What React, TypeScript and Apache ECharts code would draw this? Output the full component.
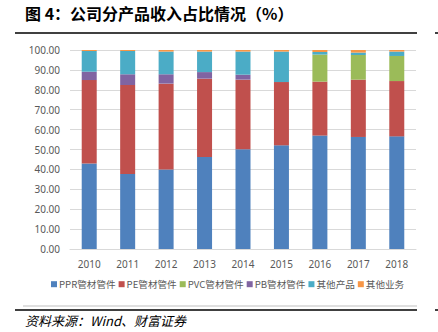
import React, { useEffect, useRef } from "react";
import * as echarts from "echarts";

const years = ["2010", "2011", "2012", "2013", "2014", "2015", "2016", "2017", "2018"];
const seriesNames = ["PPR管材管件", "PE管材管件", "PVC管材管件", "PB管材管件", "其他产品", "其他业务"];
const ppr = [43.0, 37.7, 40.0, 46.2, 50.1, 52.1, 57.0, 56.3, 56.6];
const pe = [41.9, 44.7, 43.1, 39.4, 35.0, 31.8, 27.1, 28.8, 27.8];
const pvc = [0, 0, 0, 0, 0, 0, 13.6, 12.4, 12.6];
const pb = [4.2, 5.4, 4.7, 3.3, 2.5, 0, 0, 0, 0];
const otherProducts = [10.4, 11.7, 11.4, 10.3, 11.6, 15.3, 1.3, 1.2, 2.2];
const otherBusiness = [0.5, 0.5, 0.8, 0.8, 0.8, 0.8, 1.0, 1.3, 0.8];
const colors = ["#4F81BD", "#C0504D", "#9BBB59", "#8064A2", "#4BACC6", "#F79646"];

export default function App() {
  const ref = useRef<HTMLDivElement>(null);
  useEffect(() => {
    if (!ref.current) return;
    const chart = echarts.init(ref.current, null, { renderer: "svg" });
    const data = [ppr, pe, pvc, pb, otherProducts, otherBusiness];
    chart.setOption({
      animation: false,
      backgroundColor: "#ffffff",
      color: colors,
      grid: { left: 70, right: 22, top: 50, bottom: 83 },
      legend: {
        data: seriesNames,
        bottom: 38,
        left: 46,
        itemWidth: 6,
        itemHeight: 6,
        itemGap: 3,
        icon: "rect",
        textStyle: { fontSize: 9.6, color: "#595959", fontFamily: "Noto Sans CJK SC", padding: [0, 0, 0, -3] },
      },
      xAxis: {
        type: "category",
        data: years,
        axisLine: { show: true, lineStyle: { color: "#D9D9D9" } },
        axisTick: { show: false },
        axisLabel: { fontSize: 10, color: "#595959", margin: 10, fontFamily: "Noto Sans" },
      },
      yAxis: {
        type: "value",
        min: 0,
        max: 100,
        interval: 10,
        axisLine: { show: false },
        axisTick: { show: false },
        splitLine: { lineStyle: { color: "#D9D9D9" } },
        axisLabel: {
          fontSize: 10,
          color: "#595959",
          margin: 10,
          fontFamily: "Noto Sans",
          formatter: (v: number) => v.toFixed(2),
        },
      },
      series: seriesNames.map((name, i) => ({
        name,
        type: "bar",
        stack: "total",
        barWidth: 15,
        data: data[i],
        itemStyle: { color: colors[i] },
      })),
      graphic: [
        {
          type: "text",
          left: 25,
          top: 5,
          style: {
            text: "图 4：公司分产品收入占比情况（%）",
            font: "bold 16px 'Noto Sans CJK SC'",
            fill: "#000",
          },
        },
        { type: "line", shape: { x1: 15, y1: 33, x2: 417, y2: 33 }, style: { stroke: "#000", lineWidth: 1.5 } },
        { type: "line", shape: { x1: 435, y1: 33, x2: 438, y2: 33 }, style: { stroke: "#000", lineWidth: 1.5 } },
        { type: "line", shape: { x1: 23, y1: 306, x2: 417, y2: 306 }, style: { stroke: "#BFBFBF", lineWidth: 1 } },
        { type: "line", shape: { x1: 15, y1: 310, x2: 417, y2: 310 }, style: { stroke: "#000", lineWidth: 1.5 } },
        { type: "line", shape: { x1: 435, y1: 310, x2: 438, y2: 310 }, style: { stroke: "#000", lineWidth: 1.5 } },
        {
          type: "text",
          left: 25,
          top: 314,
          style: {
            text: "资料来源：Wind、财富证券",
            font: "italic 13px 'Noto Sans CJK SC'",
            fill: "#000",
          },
        },
      ],
    });
    return () => chart.dispose();
  }, []);
  return <div ref={ref} style={{ width: 438, height: 332, position: "absolute", left: 0, top: 0 }} />;
}
